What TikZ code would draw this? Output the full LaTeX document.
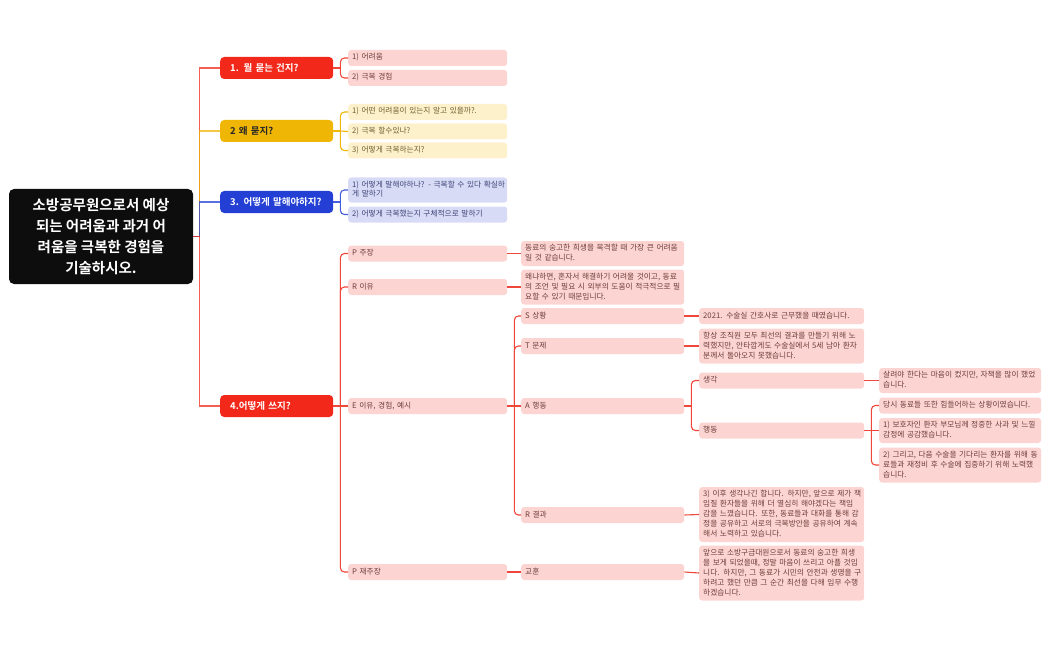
\documentclass[tikz,border=0pt]{standalone}
\usepackage{fontspec}
\setmainfont{Noto Sans CJK KR}[BoldFont={Noto Sans CJK KR Bold}]
\usetikzlibrary{calc}
\setlength{\parindent}{0pt}
\definecolor{cred}{HTML}{F2291A}
\definecolor{cyel}{HTML}{F0B606}
\definecolor{cblue}{HTML}{2440D4}
\definecolor{croot}{HTML}{0D0D0D}
\definecolor{pinkfill}{HTML}{FCD5D2}
\definecolor{pinktext}{HTML}{6F3D39}
\definecolor{yelfill}{HTML}{FDF1CC}
\definecolor{yeltext}{HTML}{70602F}
\definecolor{bluefill}{HTML}{D8DBF6}
\definecolor{bluetext}{HTML}{3E4577}
\definecolor{linered}{HTML}{F0473B}
\newcommand{\mlines}[1]{\begin{tabular}{@{}l@{}}#1\end{tabular}}
\begin{document}
\begin{tikzpicture}[x=1pt,y=-1pt,
  leafbase/.style={anchor=west, rounded corners=3pt, inner xsep=4pt, inner ysep=2.5pt,
    minimum height=16pt, align=left, font=\fontsize{7.7}{10}\selectfont},
  pinkleaf/.style={leafbase, fill=pinkfill, text=pinktext},
  yelleaf/.style={leafbase, fill=yelfill, text=yeltext},
  blueleaf/.style={leafbase, fill=bluefill, text=bluetext},
  wa/.style={text width=151pt},
  wb/.style={text width=155pt},
  wc/.style={text width=157pt},
  wd/.style={text width=154pt},
  mainbox/.style={anchor=west, rounded corners=4pt, minimum height=22pt, text width=93pt,
    inner xsep=10pt, inner ysep=0pt, align=left, font=\fontsize{9.5}{11}\selectfont\bfseries},
  trunk/.style={line width=1.1pt, opacity=.75},
  con/.style={line width=1.1pt},
  conr/.style={con, draw=linered},
  cony/.style={con, draw=cyel},
  conb/.style={con, draw=cblue!85},
  rnd/.style={rounded corners=4pt}
]
\useasboundingbox (0,0) rectangle (1050,650);

% root
\node[fill=croot, text=white, rounded corners=5pt, minimum width=184pt, minimum height=95pt,
  align=center, font=\fontsize{14.5}{21}\selectfont\bfseries, inner sep=0pt]
  (root) at (101,236.5) {소방공무원으로서 예상\\되는 어려움과 과거 어\\려움을 극복한 경험을\\기술하시오.};

% main branches
\node[mainbox, fill=cred, text=white] (b1) at (220,68) {\mbox{1. 뭘 묻는 건지?}};
\node[mainbox, fill=cyel, text=black!85] (b2) at (220,131) {\mbox{2 왜 묻지?}};
\node[mainbox, fill=cblue, text=white] (b3) at (220,202) {\mbox{3. 어떻게 말해야하지?}};
\node[mainbox, fill=cred, text=white] (b4) at (220,406) {\mbox{4.어떻게 쓰지?}};

% branch 1
\node[pinkleaf, wa] (l11) at (348,58) {\mlines{1) 어려움}};
\node[pinkleaf, wa] (l12) at (348,78) {\mlines{2) 극복 경험}};
% branch 2
\node[yelleaf, wa] (l21) at (348,112) {\mlines{1) 어떤 어려움이 있는지 알고 있을까?.}};
\node[yelleaf, wa] (l22) at (348,131.5) {\mlines{2) 극복 할수있나?}};
\node[yelleaf, wa] (l23) at (348,150.5) {\mlines{3) 어떻게 극복하는지?}};
% branch 3
\node[blueleaf, wa] (l31) at (348,190) {\mlines{1) 어떻게 말해야하나? - 극복할 수 있다 확실하\\게 말하기}};
\node[blueleaf, wa] (l32) at (348,214.5) {\mlines{2) 어떻게 극복했는지 구체적으로 말하기}};
% branch 4
\node[pinkleaf, wa] (p1) at (348,253.5) {\mlines{P 주장}};
\node[pinkleaf, wa] (r1) at (348,287) {\mlines{R 이유}};
\node[pinkleaf, wa] (e1) at (348,406) {\mlines{E 이유, 경험, 예시}};
\node[pinkleaf, wa] (p2) at (348,572) {\mlines{P 재주장}};

\node[pinkleaf, wb] (p1t) at (521,253.5) {\mlines{동료의 숭고한 희생을 목격할 때 가장 큰 어려움\\일 것 같습니다.}};
\node[pinkleaf, wb] (r1t) at (521,287) {\mlines{왜냐하면, 혼자서 해결하기 어려울 것이고, 동료\\의 조언 및 필요 시 외부의 도움이 적극적으로 필\\요할 수 있기 때문입니다.}};
\node[pinkleaf, wb] (s) at (521,316) {\mlines{S 상황}};
\node[pinkleaf, wb] (t) at (521,346) {\mlines{T 문제}};
\node[pinkleaf, wb] (a) at (521,406) {\mlines{A 행동}};
\node[pinkleaf, wb] (rr) at (521,515) {\mlines{R 결과}};
\node[pinkleaf, wb] (ls) at (521,572) {\mlines{교훈}};

\node[pinkleaf, wc] (st) at (699,316) {\mlines{2021. 수술실 간호사로 근무했을 때였습니다.}};
\node[pinkleaf, wc] (tt) at (699,346) {\mlines{항상 조직원 모두 최선의 결과를 만들기 위해 노\\력했지만, 안타깝게도 수술실에서 5세 남아 환자\\분께서 돌아오지 못했습니다.}};
\node[pinkleaf, wc] (th) at (699,380.5) {\mlines{생각}};
\node[pinkleaf, wc] (ac) at (699,430.5) {\mlines{행동}};
\node[pinkleaf, wc] (rt) at (699,514.5) {\mlines{3) 이후 생각나긴 합니다. 하지만, 앞으로 제가 책\\임질 환자들을 위해 더 열심히 해야겠다는 책임\\감을 느꼈습니다. 또한, 동료들과 대화를 통해 감\\정을 공유하고 서로의 극복방안을 공유하여 계속\\해서 노력하고 있습니다.}};
\node[pinkleaf, wc] (lt) at (699,573) {\mlines{앞으로 소방구급대원으로서 동료의 숭고한 희생\\을 보게 되었을때, 정말 마음이 쓰리고 아플 것입\\니다. 하지만, 그 동료가 시민의 안전과 생명을 구\\하려고 했던 만큼 그 순간 최선을 다해 임무 수행\\하겠습니다.}};

\node[pinkleaf, wd] (tht) at (879,380.5) {\mlines{살려야 한다는 마음이 컸지만, 자책을 많이 했었\\습니다.}};
\node[pinkleaf, wd] (a1) at (879,405.5) {\mlines{당시 동료들 또한 힘들어하는 상황이였습니다.}};
\node[pinkleaf, wd] (a2) at (879,430.5) {\mlines{1) 보호자인 환자 부모님께 정중한 사과 및 느낄\\감정에 공감했습니다.}};
\node[pinkleaf, wd] (a3) at (879,465) {\mlines{2) 그리고, 다음 수술을 기다리는 환자를 위해 동\\료들과 재정비 후 수술에 집중하기 위해 노력했\\습니다.}};

% trunk connectors
\coordinate (rj) at ($(root.east)+(6,0)$);
\draw[trunk, draw=cred] (root.east) -- (rj) |- (b1.west);
\draw[trunk, draw=cyel] (root.east) -- (rj) |- (b2.west);
\draw[trunk, draw=cblue] (root.east) -- (rj) |- (b3.west);
\draw[trunk, draw=cred] (root.east) -- (rj) |- (b4.west);

% branch 1 connectors
\coordinate (j1) at ($(b1.east)+(7,0)$);
\draw[conr] (b1.east) -- (j1);
\draw[conr, rnd] (j1) |- (l11.west);
\draw[conr, rnd] (j1) |- (l12.west);
% branch 2
\coordinate (j2) at ($(b2.east)+(7,0)$);
\draw[cony] (b2.east) -- (j2);
\draw[cony, rnd] (j2) |- (l21.west);
\draw[cony] (j2) -- (l22.west);
\draw[cony, rnd] (j2) |- (l23.west);
% branch 3
\coordinate (j3) at ($(b3.east)+(7,0)$);
\draw[conb] (b3.east) -- (j3);
\draw[conb, rnd] (j3) |- (l31.west);
\draw[conb, rnd] (j3) |- (l32.west);
% branch 4
\coordinate (j4) at ($(b4.east)+(7,0)$);
\draw[conr] (b4.east) -- (j4);
\draw[conr, rnd] (j4) |- (p1.west);
\draw[conr, rnd] (j4) |- (r1.west);
\draw[conr] (j4) -- (e1.west);
\draw[conr, rnd] (j4) |- (p2.west);
\draw[conr] (p1.east) -- (p1t.west);
\draw[conr] (r1.east) -- (r1t.west);
\draw[conr] (p2.east) -- (ls.west);
\draw[conr] (ls.east) -- (lt.west);
% E
\coordinate (je) at ($(e1.east)+(7,0)$);
\draw[conr] (e1.east) -- (je);
\draw[conr, rnd] (je) |- (s.west);
\draw[conr, rnd] (je) |- (t.west);
\draw[conr] (je) -- (a.west);
\draw[conr, rnd] (je) |- (rr.west);
\draw[conr] (s.east) -- (st.west);
\draw[conr] (t.east) -- (tt.west);
\draw[conr] (rr.east) -- (rt.west);
% A
\coordinate (ja) at ($(a.east)+(7,0)$);
\draw[conr] (a.east) -- (ja);
\draw[conr, rnd] (ja) |- (th.west);
\draw[conr, rnd] (ja) |- (ac.west);
\draw[conr] (th.east) -- (tht.west);
% action
\coordinate (jc) at ($(ac.east)+(7,0)$);
\draw[conr] (ac.east) -- (jc);
\draw[conr, rnd] (jc) |- (a1.west);
\draw[conr] (jc) -- (a2.west);
\draw[conr, rnd] (jc) |- (a3.west);
\end{tikzpicture}
\end{document}
